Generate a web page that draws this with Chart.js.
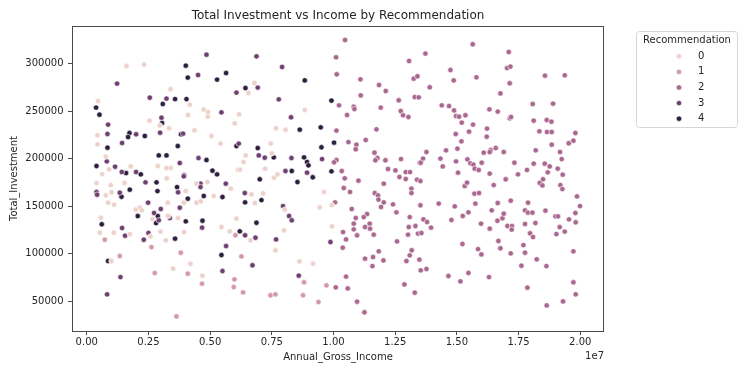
<!DOCTYPE html>
<html>
<head>
<meta charset="utf-8">
<script src="https://cdn.jsdelivr.net/npm/chart.js@4.4.1/dist/chart.umd.min.js"></script>
<style>
  html, body { margin: 0; padding: 0; background: #ffffff; }
  #wrap { width: 745px; height: 366px; }
</style>
</head>
<body>
<div id="wrap"><canvas id="chart" width="745" height="366"></canvas></div>
<script>
// Recommendation levels and their cubehelix colours (light -> dark)
const categories = ['0', '1', '2', '3', '4'];
const palette = ['#edd1cb', '#d499a7', '#aa678f', '#6e4071', '#2d1e3e'];

// [Annual_Gross_Income, Total_Investment] per recommendation level
const rec0 = [
  [1611000,297500],[2324000,299000],[3394000,273000],[460000,260600],[4176000,256800],
  [2543000,240000],[2960000,235000],[4107000,245900],[4743000,251600],[4917000,249000],
  [4905000,244200],[5999000,237100],[436000,224500],[3337000,231900],[4366000,229800],
  [5055000,223800],[436000,215000],[5420000,215800],[772000,202100],[906000,188700],
  [622000,183700],[1785000,191800],[2879000,192200],[3232000,190100],[3406000,190100],
  [6133000,188000],[396000,174300],[772000,161300],[975000,172100],[1003000,164500],
  [1530000,174300],[866000,153600],[1109000,151500],[570000,137800],[529000,122000],
  [1097000,122000],[1745000,120500],[1988000,146200],[3244000,179200],[4014000,165800],
  [4447000,173600],[4893000,175300],[5148000,160600],[5837000,168400],[2150000,148300],
  [2231000,145500],[2665000,136300],[3285000,153600],[3297000,139500],[3702000,137400],
  [3933000,153600],[4447000,153600],[4622000,155000],[2584000,118100],[2989000,123100],
  [3204000,113900],[3945000,122600],[5460000,127900],[5797000,123400],[6068000,136800],
  [1003000,92100],[4204000,89300],[3499000,84100],[4691000,76700],[6797000,279600],
  [6554000,269100],[8836000,251200],[6174000,246600],[7673000,231900],[8054000,230500],
  [7458000,215800],[6445000,203400],[6352000,196400],[6214000,188400],[7499000,205500],
  [7227000,189400],[7592000,179900],[7729000,183400],[8621000,91800],[9172000,89400],
  [6676000,162400],[6810000,153200],[7146000,163400],[8025000,146200],[6635000,113900],
  [7648000,103400],[7997000,124400],[9618000,164800],[9443000,148700],[9930000,151100],
  [9942000,128600]
];

const rec1 = [
  [732000,114600],[2624000,106800],[6028000,119200],[1340000,97400],[3811000,100900],
  [2758000,79500],[4095000,78800],[4674000,68300],[5987000,72800],[5959000,64700],
  [3637000,33800],[6271000,97000],[6336000,59100],[7446000,56000],[7648000,57000],
  [8807000,69700],[8767000,56000],[9391000,48900],[9715000,66500]
];

const rec2 = [
  [10469000,324900],[10104000,306700],[10132000,288800],[11093000,283500],[11846000,277500],
  [12118000,271200],[13062000,302800],[13252000,284200],[13402000,286700],[13293000,264800],
  [13455000,264500],[11105000,266600],[10225000,256100],[10821000,254700],[10849000,252200],
  [10550000,245900],[11915000,253700],[12644000,261400],[12725000,250100],[12819000,245600],
  [13037000,243800],[10120000,229500],[11741000,230800],[10606000,217400],[10930000,214700],
  [10902000,209800],[11307000,219600],[11660000,206300],[11781000,200600],[11700000,198200],
  [12106000,198200],[12738000,199500],[13495000,195700],[10120000,198500],[10023000,196100],
  [10335000,186900],[12211000,189000],[12511000,187600],[12928000,185800],[13102000,185800],
  [10456000,179200],[11012000,176800],[10416000,169000],[10671000,164800],[12037000,173600],
  [12673000,180600],[12928000,178500],[13159000,168400],[13159000,163700],[11672000,163700],
  [11806000,161300],[11822000,156800],[12037000,153900],[11927000,149000],[12413000,151800],
  [12551000,143400],[13090000,138400],[13321000,129000],[13050000,127900],[13021000,119900],
  [13426000,121000],[10063000,153900],[10740000,146900],[11360000,141600],[11226000,138400],
  [11469000,131500],[11279000,127900],[11481000,126200],[10902000,137400],[10821000,131500],
  [10821000,125500],[10955000,119200],[10388000,122600],[10509000,114900],[10375000,106200],
  [11631000,119900],[11834000,102300],[11279000,94600],[11603000,96300],[12025000,92800],
  [11579000,86800],[12576000,112800],[13171000,103400],[13090000,98100],[12956000,92100],
  [12875000,67500],[13293000,58800],[10509000,75700],[10092000,64400],[10578000,63300],
  [10955000,49300],[11255000,38100],[15643000,320400],[17102000,312300],[13726000,310600],
  [14739000,293300],[14873000,282400],[15793000,285600],[17033000,295400],[17170000,296900],
  [17142000,279300],[13901000,275100],[18572000,287400],[19371000,287700],[16765000,268700],
  [14387000,256100],[14683000,255400],[14885000,250800],[14966000,244800],[15088000,244200],
  [15347000,245600],[15197000,237900],[15655000,235800],[16319000,251900],[16656000,249500],
  [17142000,242400],[17195000,243800],[18074000,257500],[18897000,257900],[18114000,240000],
  [18641000,240600],[18832000,238900],[18345000,228700],[18653000,228000],[18844000,228000],
  [19804000,226900],[19723000,218900],[19533000,216100],[18844000,214700],[19180000,206900],
  [19249000,199500],[18196000,208700],[16222000,231600],[16210000,223100],[14954000,225900],
  [15493000,228400],[15185000,218200],[15023000,210500],[14561000,208700],[13767000,206900],
  [13629000,200000],[13536000,195700],[14334000,200000],[14427000,191800],[14966000,197100],
  [15428000,199200],[15550000,195000],[15671000,193600],[16008000,195700],[15724000,189400],
  [15886000,188000],[16089000,206300],[16372000,209000],[16332000,206900],[16575000,211100],
  [16899000,206900],[17332000,195700],[17843000,188000],[18114000,194700],[18560000,194700],
  [18763000,191800],[19087000,189400],[18682000,185500],[15047000,185200],[16332000,184200],
  [17478000,183400],[19290000,183100],[16980000,178200],[18491000,178200],[18358000,174300],
  [18467000,171800],[19196000,172100],[19277000,167900],[13386000,177800],[13524000,176400],
  [15319000,171100],[15412000,174700],[15712000,163100],[15898000,163700],[16494000,172100],
  [13524000,150800],[14265000,152600],[14913000,149700],[15752000,152600],[16656000,153200],
  [17183000,155700],[17884000,153600],[19869000,160200],[19991000,150000],[13645000,136000],
  [13791000,133200],[13953000,127300],[13564000,121600],[14780000,135300],[15238000,139500],
  [15469000,143400],[16413000,145500],[15979000,131500],[16332000,126200],[16644000,134600],
  [16846000,137100],[16899000,142000],[17049000,129000],[17235000,129000],[17223000,125200],
  [17762000,145500],[17884000,143100],[18062000,143100],[17762000,131100],[18183000,132100],
  [18589000,145200],[18994000,139200],[19099000,139200],[19545000,136000],[19804000,142700],
  [19816000,132900],[19168000,127900],[19034000,120500],[19371000,123100],[17965000,121300],
  [18086000,117400],[15226000,110000],[15858000,104700],[15995000,99100],[16684000,113200],
  [16765000,105500],[17183000,100200],[17697000,108900],[17762000,100900],[18236000,93900],
  [18629000,86800],[17616000,87200],[19723000,102300],[13483000,93600],[13536000,82300],
  [13767000,83700],[14658000,76300],[15144000,70700],[15469000,79500],[16303000,75200],
  [17859000,64100],[19723000,69700],[19816000,57000],[18641000,45400],[19302000,49600]
];

const rec3 = [
  [4853000,309500],[4513000,288000],[1230000,279000],[6068000,269500],[2555000,264200],
  [3232000,263200],[5460000,248700],[3029000,243100],[866000,235800],[841000,225900],
  [2000000,225600],[2973000,227300],[3904000,226300],[1433000,216400],[6161000,215800],
  [813000,197100],[1149000,191500],[1421000,185900],[2000000,185900],[3771000,195300],
  [3945000,182400],[4529000,200600],[396000,164800],[420000,162000],[1340000,164100],
  [2381000,175000],[3702000,164500],[3933000,181300],[4610000,173600],[4610000,170000],
  [5635000,173600],[2486000,153600],[2729000,142700],[3001000,146900],[2920000,135000],
  [3366000,137400],[3771000,148300],[4674000,127300],[1433000,126900],[1554000,118800],
  [2502000,121600],[2312000,114600],[5647000,107900],[5501000,81600],[1368000,75200],
  [825000,57000],[6879000,307700],[7916000,296500],[6931000,274800],[7782000,262400],
  [8280000,243500],[6972000,203400],[7215000,201000],[8297000,200600],[9537000,199500],
  [8054000,186900],[8929000,185200],[9877000,112100],[8593000,76700],[6716000,87600],
  [6405000,163700],[7956000,150000],[8200000,139500],[8309000,135000],[6417000,119200],
  [6838000,116700],[7673000,114900]
];

const rec4 = [
  [4014000,297900],[4095000,285300],[5282000,283200],[5647000,290100],[3580000,262700],
  [4042000,262700],[3082000,257500],[379000,253700],[517000,246300],[3054000,237500],
  [1733000,226900],[1676000,222700],[2353000,223800],[3823000,225600],[841000,211500],
  [3690000,213200],[6068000,213200],[396000,192200],[1595000,184800],[2191000,183400],
  [2920000,203400],[3232000,203400],[4853000,198500],[5096000,187300],[5282000,183400],
  [1409000,159900],[1745000,167300],[610000,130800],[2069000,139500],[2827000,175000],
  [2867000,165800],[3661000,170000],[4095000,157800],[4743000,160600],[5501000,159500],
  [2879000,139500],[2810000,132100],[4014000,133900],[4691000,134600],[3580000,115700],
  [6202000,123400],[5460000,98400],[866000,92100],[8836000,282400],[6433000,274300],
  [9918000,261100],[8633000,230500],[9484000,232900],[6931000,211100],[10023000,216800],
  [9512000,211900],[7580000,201300],[8807000,201300],[8929000,196400],[8986000,192900],
  [8309000,186900],[9918000,186600],[7012000,178200],[9160000,180300],[8540000,175300],
  [6417000,153900],[7081000,156300],[6879000,132500]
];

const series = [rec0, rec1, rec2, rec3, rec4];

// Axis ticks
const xTickValues = [0, 2500000, 5000000, 7500000, 10000000, 12500000, 15000000, 17500000, 20000000];
const xTickLabels = ['0.00', '0.25', '0.50', '0.75', '1.00', '1.25', '1.50', '1.75', '2.00'];
const yTickValues = [50000, 100000, 150000, 200000, 250000, 300000];
const yTickLabels = ['50000', '100000', '150000', '200000', '250000', '300000'];

const chartTitle = 'Total Investment vs Income by Recommendation';
const xTitle = 'Annual_Gross_Income';
const yTitle = 'Total_Investment';
const xOffsetText = '1e7';
const legendTitle = 'Recommendation';

const FONT = '"DejaVu Sans", "Liberation Sans", sans-serif';
const TEXT = '#262626';
const DOT_R = 2.7;

// Frame, titles and the hue legend
const decor = {
  id: 'decor',
  afterDatasetsDraw(chart) {
    const { ctx, chartArea: a } = chart;
    ctx.save();
    ctx.strokeStyle = '#4a4a4a';
    ctx.lineWidth = 1;
    ctx.strokeRect(a.left + 0.5, a.top + 0.5, a.right - a.left - 1, a.bottom - a.top);
    ctx.restore();
  },
  afterDraw(chart) {
    const { ctx, chartArea: a } = chart;
    const cx = (a.left + a.right) / 2;
    ctx.save();
    ctx.fillStyle = TEXT;
    ctx.textBaseline = 'middle';

    ctx.font = '12px ' + FONT;
    ctx.textAlign = 'center';
    ctx.fillText(chartTitle, cx, 15.5);

    ctx.font = '10px ' + FONT;
    ctx.fillText(xTitle, cx, 357);

    ctx.textAlign = 'right';
    ctx.fillText(xOffsetText, a.right, 356);

    ctx.save();
    ctx.translate(14, (a.top + a.bottom) / 2);
    ctx.rotate(-Math.PI / 2);
    ctx.textAlign = 'center';
    ctx.fillText(yTitle, 0, 0);
    ctx.restore();

    // legend box
    const bx = 636.5, by = 31.5, bw = 101, bh = 96, r = 3;
    ctx.beginPath();
    ctx.moveTo(bx + r, by);
    ctx.lineTo(bx + bw - r, by);
    ctx.arcTo(bx + bw, by, bx + bw, by + r, r);
    ctx.lineTo(bx + bw, by + bh - r);
    ctx.arcTo(bx + bw, by + bh, bx + bw - r, by + bh, r);
    ctx.lineTo(bx + r, by + bh);
    ctx.arcTo(bx, by + bh, bx, by + bh - r, r);
    ctx.lineTo(bx, by + r);
    ctx.arcTo(bx, by, bx + r, by, r);
    ctx.closePath();
    ctx.fillStyle = 'rgba(255,255,255,0.8)';
    ctx.fill();
    ctx.strokeStyle = '#d6d6d6';
    ctx.lineWidth = 1;
    ctx.stroke();

    ctx.fillStyle = TEXT;
    ctx.textAlign = 'center';
    ctx.fillText(legendTitle, 687, 40.5);

    categories.forEach((c, i) => {
      const y = 56.3 + i * 15.6;
      ctx.beginPath();
      ctx.arc(679, y, DOT_R, 0, Math.PI * 2);
      ctx.fillStyle = palette[i];
      ctx.fill();
      ctx.strokeStyle = '#ffffff';
      ctx.lineWidth = 0.6;
      ctx.stroke();
      ctx.fillStyle = TEXT;
      ctx.textAlign = 'left';
      ctx.fillText(c, 698, y);
    });
    ctx.restore();
  }
};

const datasets = categories.map((c, i) => ({
  label: c,
  data: series[i].map(p => ({ x: p[0], y: p[1] })),
  backgroundColor: palette[i],
  borderColor: '#ffffff',
  borderWidth: 0.6,
  pointRadius: DOT_R,
  pointHoverRadius: DOT_R
}));

new Chart(document.getElementById('chart'), {
  type: 'scatter',
  data: { datasets },
  options: {
    responsive: false,
    animation: false,
    devicePixelRatio: 1,
    events: [],
    layout: { padding: { left: 0, right: 141, top: 26, bottom: 0 } },
    plugins: {
      legend: { display: false },
      tooltip: { enabled: false },
      title: { display: false }
    },
    scales: {
      x: {
        type: 'linear',
        min: -597000,
        max: 20963000,
        afterBuildTicks: s => { s.ticks = xTickValues.map(v => ({ value: v })); },
        afterFit: s => { s.height = 35; },
        ticks: {
          callback: (v, i) => xTickLabels[i],
          font: { family: FONT, size: 10 },
          color: TEXT,
          padding: 1,
          maxRotation: 0,
          autoSkip: false
        },
        grid: { drawOnChartArea: false, drawTicks: true, tickLength: 4, color: '#4a4a4a' },
        border: { display: false }
      },
      y: {
        type: 'linear',
        min: 18418,
        max: 339674,
        afterBuildTicks: s => { s.ticks = yTickValues.map(v => ({ value: v })); },
        afterFit: s => { s.width = 72; },
        ticks: {
          callback: (v, i) => yTickLabels[i],
          font: { family: FONT, size: 10 },
          color: TEXT,
          padding: 4.5,
          autoSkip: false
        },
        grid: { drawOnChartArea: false, drawTicks: true, tickLength: 4, color: '#4a4a4a' },
        border: { display: false }
      }
    }
  },
  plugins: [decor]
});
</script>
</body>
</html>
